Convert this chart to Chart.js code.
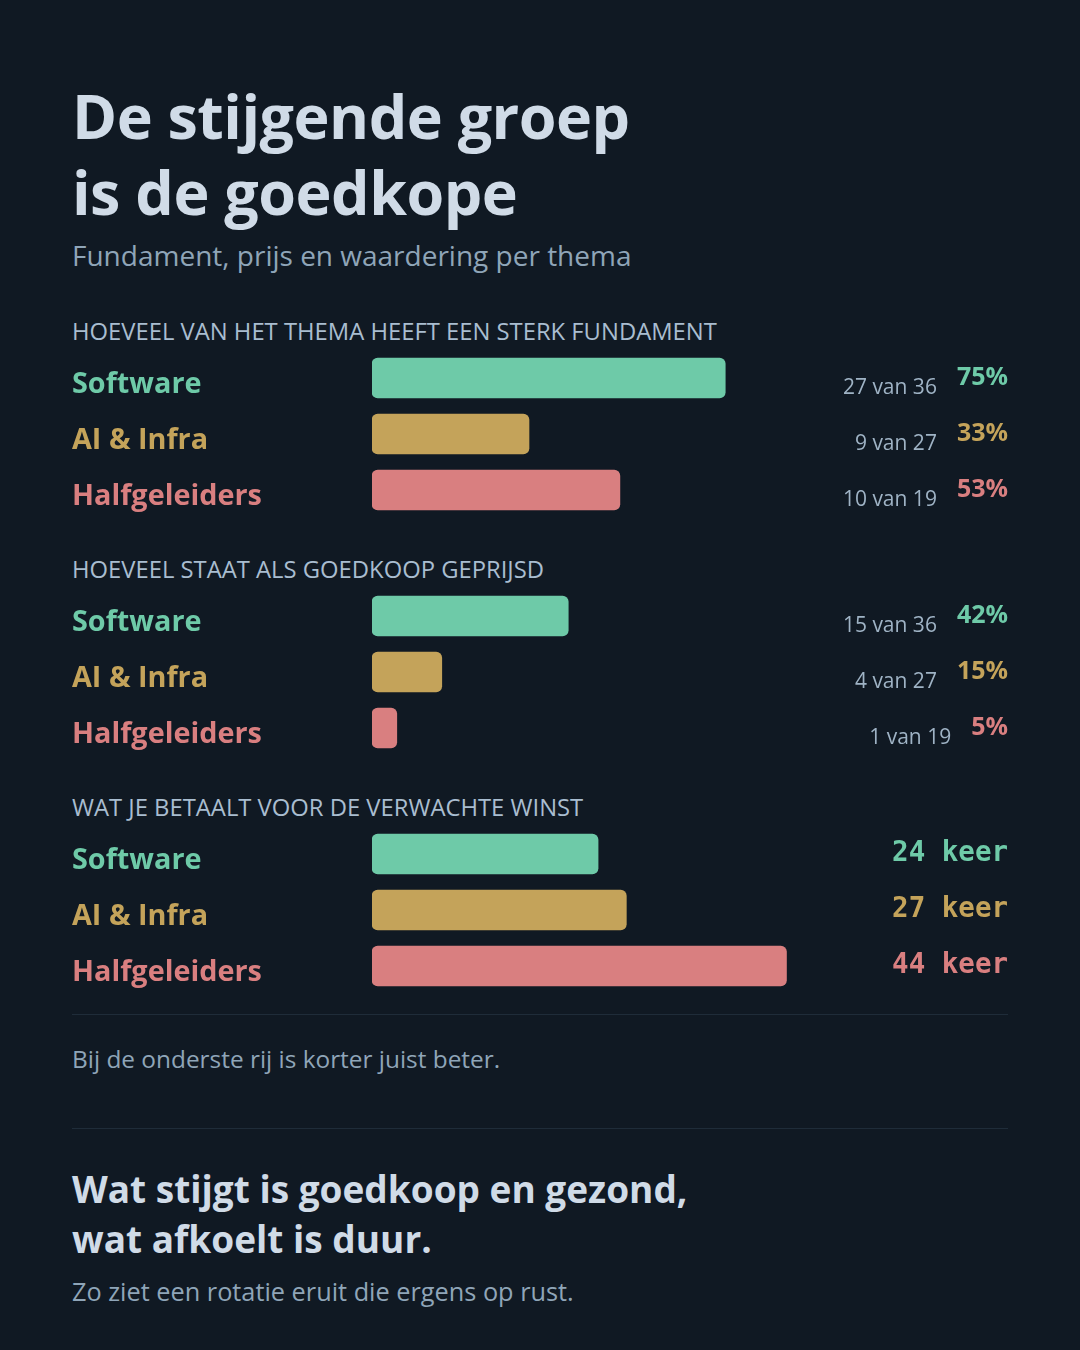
<!DOCTYPE html>
<html lang="nl">
<head>
<meta charset="utf-8">
<title>De stijgende groep is de goedkope</title>
<script src="https://cdn.jsdelivr.net/npm/chart.js@4/dist/chart.umd.min.js"></script>
<style>
  html, body { margin: 0; padding: 0; }
  body {
    width: 1080px; height: 1350px; position: relative; overflow: hidden;
    background: #101923; font-family: "Open Sans", "Noto Sans", sans-serif;
  }
  .abs { position: absolute; left: 72px; white-space: nowrap; }
  #title { top: 78px; font-size: 61px; line-height: 76px; font-weight: 700; color: #d0dbe7; letter-spacing: -0.5px; }
  #subtitle { top: 236px; font-size: 28px; line-height: 38px; color: #8fa5b8; }
  .header { font-size: 23.8px; line-height: 30px; color: #a9bdd0; }
  .chartBox { position: absolute; left: 72px; width: 936px; height: 168px; }
  .rule { position: absolute; left: 72px; width: 936px; height: 1px; background: #1f2c39; }
  #note { top: 1043px; font-size: 24.4px; line-height: 32px; color: #8fa5b8; }
  #outro { top: 1164px; font-size: 37px; line-height: 50px; font-weight: 700; color: #d0dbe7; }
  #outroSub { top: 1274px; font-size: 25.3px; line-height: 34px; color: #8fa5b8; }
</style>
</head>
<body>
<div class="abs" id="title">De stijgende groep<br>is de goedkope</div>
<div class="abs" id="subtitle">Fundament, prijs en waardering per thema</div>

<div class="abs header" style="top:316px">HOEVEEL VAN HET THEMA HEEFT EEN STERK FUNDAMENT</div>
<div class="chartBox" style="top:350px"><canvas id="fundamentChart"></canvas></div>

<div class="abs header" style="top:554px">HOEVEEL STAAT ALS GOEDKOOP GEPRIJSD</div>
<div class="chartBox" style="top:588px"><canvas id="cheapChart"></canvas></div>

<div class="abs header" style="top:792px">WAT JE BETAALT VOOR DE VERWACHTE WINST</div>
<div class="chartBox" style="top:826px"><canvas id="peChart"></canvas></div>

<div class="rule" style="top:1014px"></div>
<div class="abs" id="note">Bij de onderste rij is korter juist beter.</div>
<div class="rule" style="top:1128px"></div>
<div class="abs" id="outro">Wat stijgt is goedkoop en gezond,<br>wat afkoelt is duur.</div>
<div class="abs" id="outroSub">Zo ziet een rotatie eruit die ergens op rust.</div>

<script>
// Themes and their colours
const categories = ['Software', 'AI & Infra', 'Halfgeleiders'];
const themeColors = ['#6ecaa8', '#c4a35a', '#d97f80'];

// Number of stocks per theme
const themeTotals = [36, 27, 19];
// Stocks with a strong fundament
const strongCounts = [27, 9, 10];
// Stocks priced as cheap
const cheapCounts = [15, 4, 1];
// Price / expected earnings multiple
const peMultiples = [24, 27, 44];

const SANS = '"Open Sans", "Noto Sans", sans-serif';
const MONO = '"DejaVu Sans Mono", "Liberation Mono", monospace';

/**
 * Draws the labels to the right of each bar.
 * opts.labels(i) returns { main, sub } where sub is optional.
 */
const rightLabels = {
    id: 'rightLabels',
    afterDatasetsDraw(chart, args, opts) {
        const ctx = chart.ctx;
        const right = chart.width;
        const bars = chart.getDatasetMeta(0).data;
        ctx.save();
        ctx.textAlign = 'right';
        ctx.textBaseline = 'alphabetic';
        bars.forEach((bar, i) => {
            const lab = opts.labels(i);
            ctx.font = opts.mainFont;
            ctx.fillStyle = themeColors[i];
            ctx.fillText(lab.main, right, bar.y + opts.mainShift);
            if (lab.sub) {
                const w = ctx.measureText(lab.main).width;
                ctx.font = '400 21px ' + SANS;
                ctx.fillStyle = '#9fb3c5';
                ctx.fillText(lab.sub, right - w - 20, bar.y + 16);
            }
        });
        ctx.restore();
    }
};

/**
 * Builds one horizontal bar section.
 */
function renderSection(canvasId, values, maxValue, labelFn, mainFont, mainShift) {
    const ctx = document.getElementById(canvasId).getContext('2d');
    return new Chart(ctx, {
        type: 'bar',
        data: {
            labels: categories,
            datasets: [{
                data: values,
                backgroundColor: themeColors,
                borderRadius: 6,
                borderSkipped: false,
                barThickness: 40
            }]
        },
        options: {
            indexAxis: 'y',
            responsive: true,
            maintainAspectRatio: false,
            animation: false,
            layout: { padding: { left: 0, right: 165, top: 0, bottom: 0 } },
            plugins: {
                legend: { display: false },
                tooltip: { enabled: false },
                rightLabels: { labels: labelFn, mainFont: mainFont, mainShift: mainShift }
            },
            scales: {
                x: { display: false, min: 0, max: maxValue },
                y: {
                    grid: { display: false },
                    border: { display: false },
                    afterFit: scale => {
                        // fixed label column, no extra room for label overflow
                        scale.width = 300;
                        scale.paddingTop = 0;
                        scale.paddingBottom = 0;
                    },
                    ticks: {
                        crossAlign: 'far',
                        padding: 0,
                        labelOffset: 7,
                        color: c => themeColors[c.index],
                        font: { family: SANS, size: 28.8, weight: '700' }
                    }
                }
            }
        },
        plugins: [rightLabels]
    });
}

const pct = (n, d) => Math.round(n / d * 100) + '%';

renderSection('fundamentChart',
    strongCounts.map((n, i) => n / themeTotals[i]), 1,
    i => ({ main: pct(strongCounts[i], themeTotals[i]), sub: strongCounts[i] + ' van ' + themeTotals[i] }),
    '700 25px ' + SANS, 7);

renderSection('cheapChart',
    cheapCounts.map((n, i) => n / themeTotals[i]), 1,
    i => ({ main: pct(cheapCounts[i], themeTotals[i]), sub: cheapCounts[i] + ' van ' + themeTotals[i] }),
    '700 25px ' + SANS, 7);

renderSection('peChart', peMultiples, 50,
    i => ({ main: peMultiples[i] + ' keer' }),
    '700 27.5px ' + MONO, 7);
</script>
</body>
</html>
